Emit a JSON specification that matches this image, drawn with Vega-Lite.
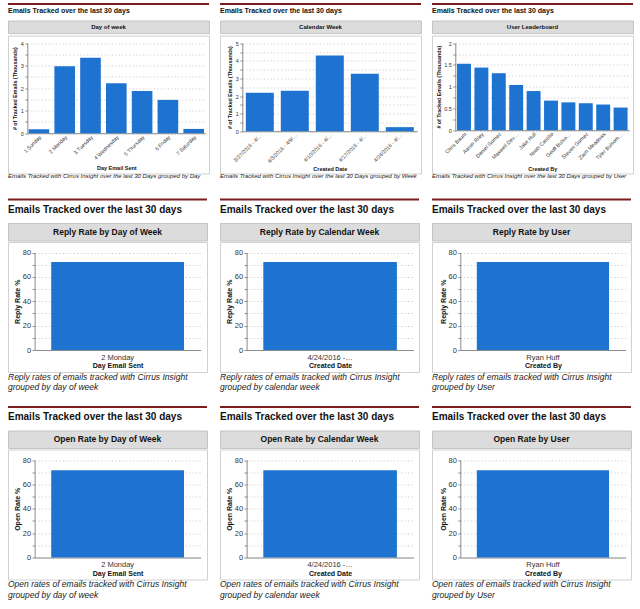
{
  "$schema": "https://vega.github.io/schema/vega-lite/v6.json",
  "padding": {"left": 7, "top": 3, "right": 4, "bottom": 4},
  "background": "white",
  "config": {
    "font": "Liberation Sans",
    "view": {"stroke": null},
    "axis": {"domainColor": "#8c8c8c", "tickColor": "#8c8c8c", "labelColor": "#333333", "titleColor": "#111111", "gridColor": "#c4c4c4", "gridDash": [1, 2.5], "labelFont": "Liberation Sans", "titleFont": "Liberation Sans", "titleFontWeight": "bold"},
    "title": {"font": "Liberation Sans", "color": "#111111"}
  },
  "datasets": {
    "by_day": [
      {"day": "1 Sunday", "emails": 0.18},
      {"day": "2 Monday", "emails": 2.98},
      {"day": "3 Tuesday", "emails": 3.35},
      {"day": "4 Wednesday", "emails": 2.22},
      {"day": "5 Thursday", "emails": 1.88},
      {"day": "6 Friday", "emails": 1.48},
      {"day": "7 Saturday", "emails": 0.19}
    ],
    "by_week": [
      {"week": "3/27/2016 - 4/2/2016", "emails": 2.19},
      {"week": "4/3/2016 - 4/9/2016", "emails": 2.30},
      {"week": "4/10/2016 - 4/16/2016", "emails": 4.30},
      {"week": "4/17/2016 - 4/23/2016", "emails": 3.26},
      {"week": "4/24/2016 - 4/30/2016", "emails": 0.23}
    ],
    "by_user": [
      {"user": "Chris Baum", "emails": 1.53},
      {"user": "Aaron Riley", "emails": 1.44},
      {"user": "Daniel Gomez", "emails": 1.31},
      {"user": "Maxwell Devereaux", "emails": 1.04},
      {"user": "Jake Hull", "emails": 0.90},
      {"user": "Noah Castillo", "emails": 0.68},
      {"user": "Geoff Bulsome-Reed", "emails": 0.64},
      {"user": "Steven Gomez", "emails": 0.62},
      {"user": "Zach Meadows", "emails": 0.59},
      {"user": "Tyler Bulsome-Reed", "emails": 0.52}
    ],
    "reply_day": [{"day": "2 Monday", "rate": 72.3}],
    "reply_week": [{"week": "4/24/2016 - 4/30/2016", "rate": 72.3}],
    "reply_user": [{"user": "Ryan Huff", "rate": 72.3}],
    "open_day": [{"day": "2 Monday", "rate": 71.6}],
    "open_week": [{"week": "4/24/2016 - 4/30/2016", "rate": 71.6}],
    "open_user": [{"user": "Ryan Huff", "rate": 71.6}]
  },
  "spacing": 14,
  "vconcat": [
    {
      "spacing": 19.5,
      "vconcat": [
        {
          "spacing": 9,
          "hconcat": [
            {
              "spacing": 5.5,
              "vconcat": [
                {"width": 201, "height": 2, "data": {"values": [{"part": "divider"}]}, "mark": {"type": "rect", "color": "#7b1d1d"}, "encoding": {},
                 "title": {"text": "Emails Tracked over the last 30 days", "orient": "bottom", "anchor": "start", "offset": 2, "fontSize": 7, "fontWeight": "bold"}},
                {"spacing": 0, "vconcat": [
                  {"width": 201, "height": 12.6, "view": {"fill": "#dcdcdc", "stroke": "#c4c4c4"}, "data": {"values": [{"header": "Day of week"}]}, "mark": {"type": "text", "fontSize": 6, "fontWeight": "bold", "color": "#111111"}, "encoding": {"text": {"field": "header"}}},
                  {"width": 201, "height": 138, "view": {"stroke": "#d0d0d0"}, "data": {"name": "by_day"}, "mark": {"type": "bar", "color": "#1f73d0"},
                   "encoding": {
                     "x": {"field": "day", "type": "nominal", "sort": null, "title": "Day Email Sent", "scale": {"range": [19.3, 197.3], "paddingInner": 0.2, "paddingOuter": 0.05}, "axis": {"offset": -40.3, "labelAngle": -45, "ticks": false, "labelPadding": 1, "labelFontSize": 5.3, "titleFontSize": 5.5, "titlePadding": 5}},
                     "y": {"field": "emails", "type": "quantitative", "title": "# of Tracked Emails (Thousands)", "scale": {"domain": [0, 4], "nice": false, "range": [97.7, 7.7]}, "axis": {"offset": -19.3, "values": [0, 0.5, 1, 1.5, 2, 2.5, 3, 3.5, 4], "format": "~g", "labelExpr": "datum.value % 1 === 0 ? datum.label : ''", "tickSize": 2.5, "labelPadding": 1.5, "labelFontSize": 5.5, "titleFontSize": 5.3, "titlePadding": 3}}
                   },
                   "title": {"text": "Emails Tracked with Cirrus Insight over the last 30 Days grouped by Day", "orient": "bottom", "anchor": "start", "frame": "group", "offset": -1, "fontSize": 6, "fontStyle": "italic", "fontWeight": "normal", "color": "#222222", "limit": 1000}}
                ]}
              ]
            },
            {
              "spacing": 5.5,
              "vconcat": [
                {"width": 201, "height": 2, "data": {"values": [{"part": "divider"}]}, "mark": {"type": "rect", "color": "#7b1d1d"}, "encoding": {},
                 "title": {"text": "Emails Tracked over the last 30 days", "orient": "bottom", "anchor": "start", "offset": 2, "fontSize": 7, "fontWeight": "bold"}},
                {"spacing": 0, "vconcat": [
                  {"width": 201, "height": 12.6, "view": {"fill": "#dcdcdc", "stroke": "#c4c4c4"}, "data": {"values": [{"header": "Calendar Week"}]}, "mark": {"type": "text", "fontSize": 6, "fontWeight": "bold", "color": "#111111"}, "encoding": {"text": {"field": "header"}}},
                  {"width": 201, "height": 138, "view": {"stroke": "#d0d0d0"}, "data": {"name": "by_week"}, "mark": {"type": "bar", "color": "#1f73d0"},
                   "encoding": {
                     "x": {"field": "week", "type": "nominal", "sort": null, "title": "Created Date", "scale": {"range": [22.3, 197.3], "paddingInner": 0.2, "paddingOuter": 0.1}, "axis": {"offset": -42.3, "labelAngle": -45, "ticks": false, "labelPadding": 1, "labelFontSize": 5.3, "labelLimit": 40, "titleFontSize": 5.5, "titlePadding": 3}},
                     "y": {"field": "emails", "type": "quantitative", "title": "# of Tracked Emails (Thousands)", "scale": {"domain": [0, 5], "nice": false, "range": [95.7, 7.7]}, "axis": {"offset": -22.3, "values": [0, 0.5, 1, 1.5, 2, 2.5, 3, 3.5, 4, 4.5, 5], "format": "~g", "labelExpr": "datum.value % 1 === 0 ? datum.label : ''", "tickSize": 2.5, "labelPadding": 1.5, "labelFontSize": 5.5, "titleFontSize": 5.3, "titlePadding": 3}}
                   },
                   "title": {"text": "Emails Tracked with Cirrus Insight over the last 30 Days grouped by Week", "orient": "bottom", "anchor": "start", "frame": "group", "offset": -1, "fontSize": 6, "fontStyle": "italic", "fontWeight": "normal", "color": "#222222", "limit": 1000}}
                ]}
              ]
            },
            {
              "spacing": 5.5,
              "vconcat": [
                {"width": 201, "height": 2, "data": {"values": [{"part": "divider"}]}, "mark": {"type": "rect", "color": "#7b1d1d"}, "encoding": {},
                 "title": {"text": "Emails Tracked over the last 30 days", "orient": "bottom", "anchor": "start", "offset": 2, "fontSize": 7, "fontWeight": "bold"}},
                {"spacing": 0, "vconcat": [
                  {"width": 201, "height": 12.6, "view": {"fill": "#dcdcdc", "stroke": "#c4c4c4"}, "data": {"values": [{"header": "User Leaderboard"}]}, "mark": {"type": "text", "fontSize": 6, "fontWeight": "bold", "color": "#111111"}, "encoding": {"text": {"field": "header"}}},
                  {"width": 201, "height": 138, "view": {"stroke": "#d0d0d0"}, "data": {"name": "by_user"}, "mark": {"type": "bar", "color": "#1f73d0"},
                   "encoding": {
                     "x": {"field": "user", "type": "nominal", "sort": null, "title": "Created By", "scale": {"range": [23.3, 197.3], "paddingInner": 0.2, "paddingOuter": 0.1}, "axis": {"offset": -43.3, "labelAngle": -45, "ticks": false, "labelPadding": 1, "labelFontSize": 5.3, "labelLimit": 37, "titleFontSize": 5.5, "titlePadding": 6}},
                     "y": {"field": "emails", "type": "quantitative", "title": "# of Tracked Emails (Thousands)", "scale": {"domain": [0, 2], "nice": false, "range": [94.7, 7.7]}, "axis": {"offset": -23.3, "values": [0, 0.25, 0.5, 0.75, 1, 1.25, 1.5, 1.75, 2], "format": "~g", "labelExpr": "datum.value % 0.5 === 0 ? datum.label : ''", "tickSize": 2.5, "labelPadding": 1.5, "labelFontSize": 5.5, "titleFontSize": 5.3, "titlePadding": 2}}
                   },
                   "title": {"text": "Emails Tracked with Cirrus Insight over the last 30 Days grouped by User", "orient": "bottom", "anchor": "start", "frame": "group", "offset": -1, "fontSize": 6, "fontStyle": "italic", "fontWeight": "normal", "color": "#222222", "limit": 1000}}
                ]}
              ]
            }
          ]
        },
        {
          "spacing": 11,
          "hconcat": [
            {
              "spacing": 7.5,
              "vconcat": [
                {"width": 199, "height": 2, "data": {"values": [{"part": "divider"}]}, "mark": {"type": "rect", "color": "#7b1d1d"}, "encoding": {},
                 "title": {"text": "Emails Tracked over the last 30 days", "orient": "bottom", "anchor": "start", "offset": 4, "fontSize": 10, "fontWeight": "bold"}},
                {"spacing": 0, "vconcat": [
                  {"width": 199, "height": 17.5, "view": {"fill": "#dcdcdc", "stroke": "#c4c4c4"}, "data": {"values": [{"header": "Reply Rate by Day of Week"}]}, "mark": {"type": "text", "fontSize": 8.5, "fontWeight": "bold", "color": "#111111"}, "encoding": {"text": {"field": "header"}}},
                  {"width": 199, "height": 130, "view": {"stroke": "#d0d0d0"}, "data": {"name": "reply_day"}, "mark": {"type": "bar", "color": "#1f73d0"},
                   "encoding": {
                     "x": {"field": "day", "type": "nominal", "sort": null, "title": "Day Email Sent", "scale": {"range": [26.6, 192.6], "paddingInner": 0.2, "paddingOuter": 0.1}, "axis": {"offset": -22, "labelAngle": 0, "ticks": false, "labelPadding": 3, "labelFontSize": 7.5, "titleFontSize": 7, "titlePadding": 1}},
                     "y": {"field": "rate", "type": "quantitative", "title": "Reply Rate %", "scale": {"domain": [0, 80], "nice": false, "range": [108, 10.5]}, "axis": {"offset": -26.6, "values": [0, 10, 20, 30, 40, 50, 60, 70, 80], "labelExpr": "datum.value % 20 === 0 ? datum.label : ''", "tickSize": 2.5, "labelPadding": 1.5, "labelFontSize": 7.5, "titleFontSize": 7, "titlePadding": 1.5}}
                   },
                   "title": {"text": ["Reply rates of emails tracked with Cirrus Insight", "grouped by day of week"], "orient": "bottom", "anchor": "start", "frame": "group", "offset": 0.5, "fontSize": 8.5, "lineHeight": 10.5, "fontStyle": "italic", "fontWeight": "normal", "color": "#222222", "limit": 1000}}
                ]}
              ]
            },
            {
              "spacing": 7.5,
              "vconcat": [
                {"width": 199, "height": 2, "data": {"values": [{"part": "divider"}]}, "mark": {"type": "rect", "color": "#7b1d1d"}, "encoding": {},
                 "title": {"text": "Emails Tracked over the last 30 days", "orient": "bottom", "anchor": "start", "offset": 4, "fontSize": 10, "fontWeight": "bold"}},
                {"spacing": 0, "vconcat": [
                  {"width": 199, "height": 17.5, "view": {"fill": "#dcdcdc", "stroke": "#c4c4c4"}, "data": {"values": [{"header": "Reply Rate by Calendar Week"}]}, "mark": {"type": "text", "fontSize": 8.5, "fontWeight": "bold", "color": "#111111"}, "encoding": {"text": {"field": "header"}}},
                  {"width": 199, "height": 130, "view": {"stroke": "#d0d0d0"}, "data": {"name": "reply_week"}, "mark": {"type": "bar", "color": "#1f73d0"},
                   "encoding": {
                     "x": {"field": "week", "type": "nominal", "sort": null, "title": "Created Date", "scale": {"range": [26.6, 193.6], "paddingInner": 0.2, "paddingOuter": 0.1}, "axis": {"offset": -22, "labelAngle": 0, "ticks": false, "labelPadding": 3, "labelFontSize": 7.5, "labelLimit": 46, "titleFontSize": 7, "titlePadding": 1}},
                     "y": {"field": "rate", "type": "quantitative", "title": "Reply Rate %", "scale": {"domain": [0, 80], "nice": false, "range": [108, 10.5]}, "axis": {"offset": -26.6, "values": [0, 10, 20, 30, 40, 50, 60, 70, 80], "labelExpr": "datum.value % 20 === 0 ? datum.label : ''", "tickSize": 2.5, "labelPadding": 1.5, "labelFontSize": 7.5, "titleFontSize": 7, "titlePadding": 1.5}}
                   },
                   "title": {"text": ["Reply rates of emails tracked with Cirrus Insight", "grouped by calendar week"], "orient": "bottom", "anchor": "start", "frame": "group", "offset": 0.5, "fontSize": 8.5, "lineHeight": 10.5, "fontStyle": "italic", "fontWeight": "normal", "color": "#222222", "limit": 1000}}
                ]}
              ]
            },
            {
              "spacing": 7.5,
              "vconcat": [
                {"width": 199, "height": 2, "data": {"values": [{"part": "divider"}]}, "mark": {"type": "rect", "color": "#7b1d1d"}, "encoding": {},
                 "title": {"text": "Emails Tracked over the last 30 days", "orient": "bottom", "anchor": "start", "offset": 4, "fontSize": 10, "fontWeight": "bold"}},
                {"spacing": 0, "vconcat": [
                  {"width": 199, "height": 17.5, "view": {"fill": "#dcdcdc", "stroke": "#c4c4c4"}, "data": {"values": [{"header": "Reply Rate by User"}]}, "mark": {"type": "text", "fontSize": 8.5, "fontWeight": "bold", "color": "#111111"}, "encoding": {"text": {"field": "header"}}},
                  {"width": 199, "height": 130, "view": {"stroke": "#d0d0d0"}, "data": {"name": "reply_user"}, "mark": {"type": "bar", "color": "#1f73d0"},
                   "encoding": {
                     "x": {"field": "user", "type": "nominal", "sort": null, "title": "Created By", "scale": {"range": [28.3, 193.6], "paddingInner": 0.2, "paddingOuter": 0.1}, "axis": {"offset": -22, "labelAngle": 0, "ticks": false, "labelPadding": 3, "labelFontSize": 7.5, "titleFontSize": 7, "titlePadding": 1}},
                     "y": {"field": "rate", "type": "quantitative", "title": "Reply Rate %", "scale": {"domain": [0, 80], "nice": false, "range": [108, 10.5]}, "axis": {"offset": -28.3, "values": [0, 10, 20, 30, 40, 50, 60, 70, 80], "labelExpr": "datum.value % 20 === 0 ? datum.label : ''", "tickSize": 2.5, "labelPadding": 1.5, "labelFontSize": 7.5, "titleFontSize": 7, "titlePadding": 1.5}}
                   },
                   "title": {"text": ["Reply rates of emails tracked with Cirrus Insight", "grouped by User"], "orient": "bottom", "anchor": "start", "frame": "group", "offset": 0.5, "fontSize": 8.5, "lineHeight": 10.5, "fontStyle": "italic", "fontWeight": "normal", "color": "#222222", "limit": 1000}}
                ]}
              ]
            }
          ]
        }
      ]
    },
    {
      "spacing": 11,
      "hconcat": [
        {
          "spacing": 7.5,
          "vconcat": [
            {"width": 199, "height": 2, "data": {"values": [{"part": "divider"}]}, "mark": {"type": "rect", "color": "#7b1d1d"}, "encoding": {},
             "title": {"text": "Emails Tracked over the last 30 days", "orient": "bottom", "anchor": "start", "offset": 4, "fontSize": 10, "fontWeight": "bold"}},
            {"spacing": 0, "vconcat": [
              {"width": 199, "height": 17.5, "view": {"fill": "#dcdcdc", "stroke": "#c4c4c4"}, "data": {"values": [{"header": "Open Rate by Day of Week"}]}, "mark": {"type": "text", "fontSize": 8.5, "fontWeight": "bold", "color": "#111111"}, "encoding": {"text": {"field": "header"}}},
              {"width": 199, "height": 130, "view": {"stroke": "#d0d0d0"}, "data": {"name": "open_day"}, "mark": {"type": "bar", "color": "#1f73d0"},
               "encoding": {
                 "x": {"field": "day", "type": "nominal", "sort": null, "title": "Day Email Sent", "scale": {"range": [26.6, 192.6], "paddingInner": 0.2, "paddingOuter": 0.1}, "axis": {"offset": -22, "labelAngle": 0, "ticks": false, "labelPadding": 3, "labelFontSize": 7.5, "titleFontSize": 7, "titlePadding": 1}},
                 "y": {"field": "rate", "type": "quantitative", "title": "Open Rate %", "scale": {"domain": [0, 80], "nice": false, "range": [108, 10.5]}, "axis": {"offset": -26.6, "values": [0, 10, 20, 30, 40, 50, 60, 70, 80], "labelExpr": "datum.value % 20 === 0 ? datum.label : ''", "tickSize": 2.5, "labelPadding": 1.5, "labelFontSize": 7.5, "titleFontSize": 7, "titlePadding": 1.5}}
               },
               "title": {"text": ["Open rates of emails tracked with Cirrus Insight", "grouped by day of week"], "orient": "bottom", "anchor": "start", "frame": "group", "offset": 0.5, "fontSize": 8.5, "lineHeight": 10.5, "fontStyle": "italic", "fontWeight": "normal", "color": "#222222", "limit": 1000}}
            ]}
          ]
        },
        {
          "spacing": 7.5,
          "vconcat": [
            {"width": 199, "height": 2, "data": {"values": [{"part": "divider"}]}, "mark": {"type": "rect", "color": "#7b1d1d"}, "encoding": {},
             "title": {"text": "Emails Tracked over the last 30 days", "orient": "bottom", "anchor": "start", "offset": 4, "fontSize": 10, "fontWeight": "bold"}},
            {"spacing": 0, "vconcat": [
              {"width": 199, "height": 17.5, "view": {"fill": "#dcdcdc", "stroke": "#c4c4c4"}, "data": {"values": [{"header": "Open Rate by Calendar Week"}]}, "mark": {"type": "text", "fontSize": 8.5, "fontWeight": "bold", "color": "#111111"}, "encoding": {"text": {"field": "header"}}},
              {"width": 199, "height": 130, "view": {"stroke": "#d0d0d0"}, "data": {"name": "open_week"}, "mark": {"type": "bar", "color": "#1f73d0"},
               "encoding": {
                 "x": {"field": "week", "type": "nominal", "sort": null, "title": "Created Date", "scale": {"range": [26.6, 193.6], "paddingInner": 0.2, "paddingOuter": 0.1}, "axis": {"offset": -22, "labelAngle": 0, "ticks": false, "labelPadding": 3, "labelFontSize": 7.5, "labelLimit": 46, "titleFontSize": 7, "titlePadding": 1}},
                 "y": {"field": "rate", "type": "quantitative", "title": "Open Rate %", "scale": {"domain": [0, 80], "nice": false, "range": [108, 10.5]}, "axis": {"offset": -26.6, "values": [0, 10, 20, 30, 40, 50, 60, 70, 80], "labelExpr": "datum.value % 20 === 0 ? datum.label : ''", "tickSize": 2.5, "labelPadding": 1.5, "labelFontSize": 7.5, "titleFontSize": 7, "titlePadding": 1.5}}
               },
               "title": {"text": ["Open rates of emails tracked with Cirrus Insight", "grouped by calendar week"], "orient": "bottom", "anchor": "start", "frame": "group", "offset": 0.5, "fontSize": 8.5, "lineHeight": 10.5, "fontStyle": "italic", "fontWeight": "normal", "color": "#222222", "limit": 1000}}
            ]}
          ]
        },
        {
          "spacing": 7.5,
          "vconcat": [
            {"width": 199, "height": 2, "data": {"values": [{"part": "divider"}]}, "mark": {"type": "rect", "color": "#7b1d1d"}, "encoding": {},
             "title": {"text": "Emails Tracked over the last 30 days", "orient": "bottom", "anchor": "start", "offset": 4, "fontSize": 10, "fontWeight": "bold"}},
            {"spacing": 0, "vconcat": [
              {"width": 199, "height": 17.5, "view": {"fill": "#dcdcdc", "stroke": "#c4c4c4"}, "data": {"values": [{"header": "Open Rate by User"}]}, "mark": {"type": "text", "fontSize": 8.5, "fontWeight": "bold", "color": "#111111"}, "encoding": {"text": {"field": "header"}}},
              {"width": 199, "height": 130, "view": {"stroke": "#d0d0d0"}, "data": {"name": "open_user"}, "mark": {"type": "bar", "color": "#1f73d0"},
               "encoding": {
                 "x": {"field": "user", "type": "nominal", "sort": null, "title": "Created By", "scale": {"range": [28.3, 193.6], "paddingInner": 0.2, "paddingOuter": 0.1}, "axis": {"offset": -22, "labelAngle": 0, "ticks": false, "labelPadding": 3, "labelFontSize": 7.5, "titleFontSize": 7, "titlePadding": 1}},
                 "y": {"field": "rate", "type": "quantitative", "title": "Open Rate %", "scale": {"domain": [0, 80], "nice": false, "range": [108, 10.5]}, "axis": {"offset": -28.3, "values": [0, 10, 20, 30, 40, 50, 60, 70, 80], "labelExpr": "datum.value % 20 === 0 ? datum.label : ''", "tickSize": 2.5, "labelPadding": 1.5, "labelFontSize": 7.5, "titleFontSize": 7, "titlePadding": 1.5}}
               },
               "title": {"text": ["Open rates of emails tracked with Cirrus Insight", "grouped by User"], "orient": "bottom", "anchor": "start", "frame": "group", "offset": 0.5, "fontSize": 8.5, "lineHeight": 10.5, "fontStyle": "italic", "fontWeight": "normal", "color": "#222222", "limit": 1000}}
            ]}
          ]
        }
      ]
    }
  ]
}
